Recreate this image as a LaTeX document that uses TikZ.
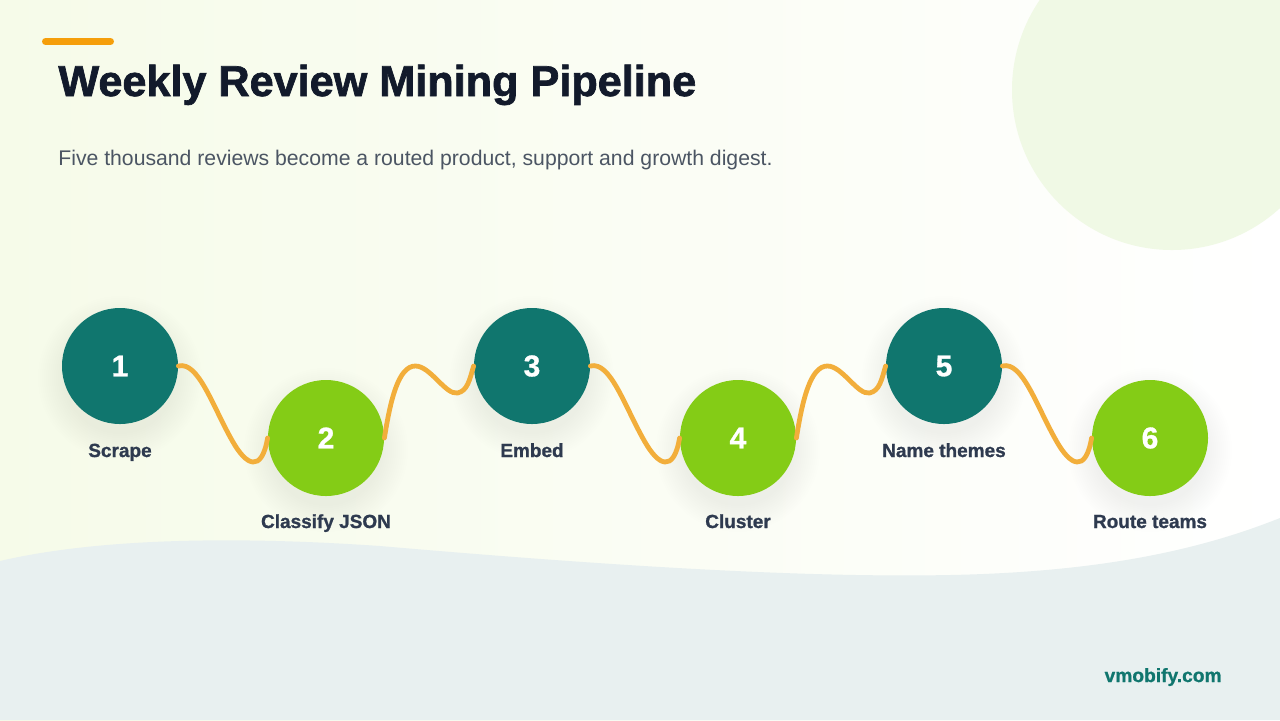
\documentclass[tikz,border=0pt]{standalone}
\usepackage{fontspec}
\setmainfont{Liberation Sans}
\newfontfamily\heavyfont[FakeBold=1.6]{Liberation Sans Bold}
\newfontfamily\labelfont[FakeBold=1.0]{Liberation Sans Bold}
\usetikzlibrary{calc}
\definecolor{cteal}{HTML}{10766E}
\definecolor{clime}{HTML}{84CC16}
\definecolor{cwire}{HTML}{F2AE3B}
\definecolor{cbar}{HTML}{F59E0B}
\definecolor{ctitle}{HTML}{121A2B}
\definecolor{csub}{HTML}{4B5563}
\definecolor{clabel}{HTML}{2E3A4F}
\definecolor{cbubble}{HTML}{F0F9E5}
\definecolor{cbottom}{HTML}{E8F0F0}
\definecolor{cbgA}{HTML}{F6FBE9}
\begin{document}
\begin{tikzpicture}[x=0.5pt,y=-0.5pt,
  stepdot/.style={circle, minimum size=58pt, inner sep=0pt, text=white,
    font=\labelfont\fontsize{15}{18}\selectfont},
  darkdot/.style={stepdot, fill=cteal},
  limedot/.style={stepdot, fill=clime},
  steplabel/.style={anchor=base, text=clabel, font=\labelfont\fontsize{9.5}{11}\selectfont, inner sep=0pt},
  wire/.style={draw=cwire, line width=2.4pt, line cap=round},
  softshadow/.style={fill=black, opacity=0.004}
]
\useasboundingbox (0,0) rectangle (1280,720);
% background
\shade[left color=cbgA, right color=white] (0,0) rectangle (1280,720);
\fill[cbubble] (1172,90) circle[radius=160];
\fill[cbottom] (0,561) .. controls (90,540) and (220,535) .. (380,546) .. controls (600,565) and (800,578) .. (950,575) .. controls (1100,572) and (1200,550) .. (1280,518) -- (1280,720) -- (0,720) -- cycle;
% header
\draw[cbar, line width=3.5pt, line cap=round] (45.5,41.5) -- (110.5,41.5);
\node[anchor=base west, text=ctitle, font=\heavyfont\fontsize{21.6}{26}\selectfont, inner sep=0pt] (title) at (58,96) {Weekly Review Mining Pipeline};
\node[anchor=base west, text=csub, font=\fontsize{10.6}{13}\selectfont, inner sep=0pt] (sub) at (58,165) {Five thousand reviews become a routed product, support and growth digest.};
% shadows
\foreach \x/\y in {120/366,326/438,532/366,738/438,944/366,1150/438}{
  \foreach \r in {2,4,...,28}{
    \fill[softshadow] (\x,\y+12) circle[radius=54+\r];
  }
}
% steps
\node[darkdot] (c1) at (120,366) {1};
\node[limedot] (c2) at (326,438) {2};
\node[darkdot] (c3) at (532,366) {3};
\node[limedot] (c4) at (738,438) {4};
\node[darkdot] (c5) at (944,366) {5};
\node[limedot] (c6) at (1150,438) {6};
\node[steplabel] (l1) at (120,457) {Scrape};
\node[steplabel] (l2) at (326,528) {Classify JSON};
\node[steplabel] (l3) at (532,457) {Embed};
\node[steplabel] (l4) at (738,528) {Cluster};
\node[steplabel] (l5) at (944,457) {Name themes};
\node[steplabel] (l6) at (1150,528) {Route teams};
% connectors
\foreach \a/\b in {c1/c2,c3/c4,c5/c6}{
  \draw[wire] (\a.east) .. controls +(20,-5) and +(-20,-35) .. ($(\a.east)+(54,75)$) .. controls +(14,25) and +(-6,35) .. (\b.west);
}
\foreach \a/\b in {c2/c3,c4/c5}{
  \draw[wire] (\a.east) .. controls +(6,-38) and +(-17,0) .. ($(\a.east)+(31,-72)$) .. controls +(15,0) and +(-12,2) .. ($(\a.east)+(73,-45)$) .. controls +(10,-2) and +(-4,14) .. (\b.west);
}
% footer
\node[anchor=base east, text=cteal, font=\labelfont\fontsize{9.6}{11}\selectfont, inner sep=0pt] (brand) at (1222,682) {vmobify.com};
\end{tikzpicture}
\end{document}
